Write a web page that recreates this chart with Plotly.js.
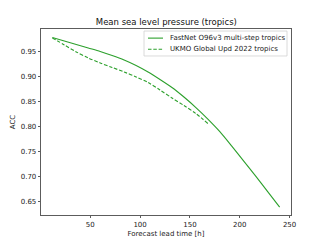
<!DOCTYPE html>
<html>
<head>
<meta charset="utf-8">
<script src="https://cdn.plot.ly/plotly-3.0.1.min.js"></script>
<style>html,body{margin:0;padding:0;background:#fff;}#chart{width:323px;height:242px;}</style>
</head>
<body>
<div id="chart"></div>
<script>
const leadFast = [12,24,36,48,60,72,84,96,108,120,132,144,156,168,180,192,204,216,228,240];
const accFast = [0.978,0.971,0.964,0.957,0.950,0.942,0.933,0.922,0.909,0.894,0.878,0.859,0.838,0.815,0.790,0.761,0.731,0.701,0.670,0.639];
const leadUkmo = [12,24,36,48,60,72,84,96,108,120,132,144,156,168];
const accUkmo = [0.977,0.963,0.949,0.937,0.927,0.918,0.909,0.899,0.888,0.873,0.857,0.842,0.826,0.806];
const xTicks = [50,100,150,200,250];
const yTicks = [0.65,0.70,0.75,0.80,0.85,0.90,0.95];
const seriesNames = ["FastNet O96v3 multi-step tropics", "UKMO Global Upd 2022 tropics"];

const green = "#2ca02c";
const dashes = ["solid", "3.5px,1.8px"];
const traces = [
  {x: leadFast, y: accFast, type: "scatter", mode: "lines", name: seriesNames[0],
   line: {color: green, width: 1.1, dash: dashes[0], shape: "spline", smoothing: 0.8}},
  {x: leadUkmo, y: accUkmo, type: "scatter", mode: "lines", name: seriesNames[1],
   line: {color: green, width: 1.1, dash: dashes[1], shape: "spline", smoothing: 0.8}}
];
const font = {family: "DejaVu Sans", size: 7, color: "#222"};

// custom matplotlib-like legend (paper coords of the plot area)
const legRows = [0.951, 0.891];
const shapes = [
  {type: "rect", xref: "paper", yref: "paper", x0: 0.412, x1: 0.984, y0: 0.855, y1: 0.989,
   line: {color: "#d0d0d0", width: 0.8}, fillcolor: "rgba(255,255,255,0.8)", layer: "above"}
];
const annotations = [];
seriesNames.forEach((n, i) => {
  shapes.push({type: "line", xref: "paper", yref: "paper", x0: 0.428, x1: 0.488, y0: legRows[i], y1: legRows[i],
               line: {color: green, width: 1.1, dash: dashes[i]}, layer: "above"});
  annotations.push({xref: "paper", yref: "paper", x: 0.508, y: legRows[i], xanchor: "left", yanchor: "middle",
                    text: n, showarrow: false, font: font});
});

const layout = {
  width: 323, height: 242,
  margin: {l: 41, r: 32, t: 29, b: 27},
  paper_bgcolor: "#fff", plot_bgcolor: "#fff",
  font: font,
  showlegend: false,
  shapes: shapes,
  annotations: annotations,
  title: {text: "Mean sea level pressure (tropics)", font: {family: "DejaVu Sans", size: 8.5, color: "#111"},
          x: 0.515, xanchor: "center", y: 0.91, yanchor: "middle"},
  xaxis: {range: [0.6, 251.4], tickvals: xTicks, ticktext: xTicks.map(String),
          showgrid: false, zeroline: false, showline: true, mirror: true, linecolor: "#333", linewidth: 0.8,
          ticks: "outside", ticklen: 2.5, tickwidth: 0.8, tickcolor: "#333", tickfont: font,
          title: {text: "Forecast lead time [h]", font: font, standoff: 3}},
  yaxis: {range: [0.6234, 0.9948], tickvals: yTicks, ticktext: yTicks.map(v => v.toFixed(2)),
          showgrid: false, zeroline: false, showline: true, mirror: true, linecolor: "#333", linewidth: 0.8,
          ticks: "outside", ticklen: 2.5, tickwidth: 0.8, tickcolor: "#333", tickfont: font,
          title: {text: "ACC", font: font, standoff: 4}}
};
Plotly.newPlot("chart", traces, layout, {staticPlot: true, displayModeBar: false});
</script>
</body>
</html>
